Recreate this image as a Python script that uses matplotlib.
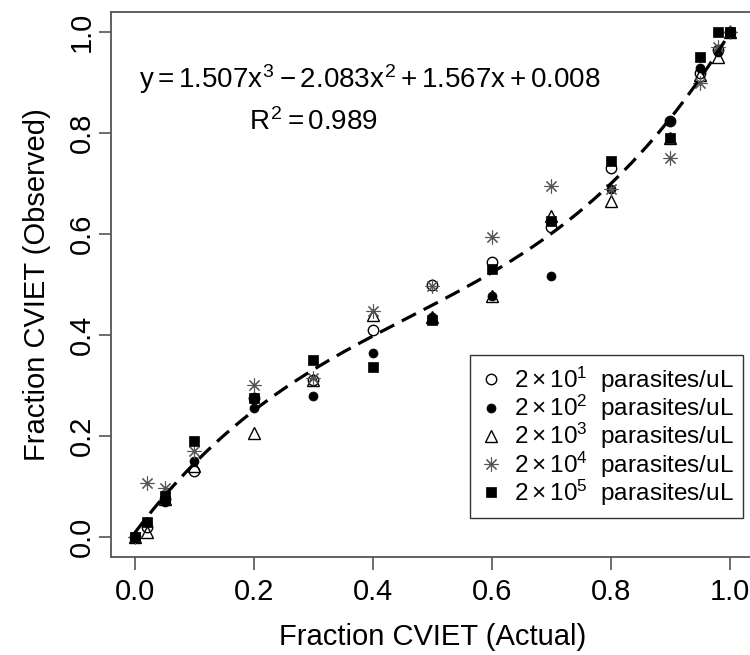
import numpy as np
import matplotlib
matplotlib.use("Agg")
import matplotlib.pyplot as plt
from matplotlib.ticker import MultipleLocator, FormatStrFormatter

plt.rcParams['font.family'] = ['Liberation Sans', 'DejaVu Sans']
plt.rcParams['mathtext.fontset'] = 'custom'
plt.rcParams['mathtext.rm'] = 'Liberation Sans'
plt.rcParams['mathtext.it'] = 'Liberation Sans'
plt.rcParams['mathtext.bf'] = 'Liberation Sans:bold'

# actual fraction (x) for every dilution series
actual = [0, 0.02, 0.05, 0.1, 0.2, 0.3, 0.4, 0.5, 0.6, 0.7, 0.8, 0.9, 0.95, 0.98, 1.0]

# observed fractions
obs_1e1 = [0.0, 0.02, 0.075, 0.13, 0.275, 0.31, 0.41, 0.50, 0.545, 0.615, 0.73, 0.825, 0.92, 0.965, 1.0]
obs_1e2 = [0.0, 0.03, 0.07, 0.15, 0.255, 0.28, 0.365, 0.435, 0.478, 0.517, 0.69, 0.825, 0.93, 0.96, 1.0]
obs_1e3 = [0.0, 0.01, 0.075, 0.14, 0.205, 0.31, 0.44, 0.435, 0.478, 0.635, 0.665, 0.79, 0.915, 0.95, 1.0]
obs_1e4 = [0.0, 0.107, 0.097, 0.17, 0.30, 0.315, 0.447, 0.497, 0.595, 0.695, 0.69, 0.75, 0.90, 0.97, 1.0]
obs_1e5 = [0.0, 0.03, 0.08, 0.19, 0.275, 0.35, 0.337, 0.43, 0.53, 0.625, 0.745, 0.79, 0.95, 1.0, 1.0]

legend_labels = [r'$2\times10^{1}$  parasites/uL',
                 r'$2\times10^{2}$  parasites/uL',
                 r'$2\times10^{3}$  parasites/uL',
                 r'$2\times10^{4}$  parasites/uL',
                 r'$2\times10^{5}$  parasites/uL']

# cubic fit shown on the chart: y = 1.507x^3 - 2.083x^2 + 1.567x + 0.008
fit_coef = [1.507, -2.083, 1.567, 0.008]

fig = plt.figure(figsize=(7.5, 6.55), dpi=100)
ax = fig.add_axes([0.148, 0.1496, 0.857, 0.832])

h1, = ax.plot(actual, obs_1e1, linestyle='none', marker='o', ms=7.5,
              mfc='white', mec='black', mew=1.0, label=legend_labels[0])
h2, = ax.plot(actual, obs_1e2, linestyle='none', marker='o', ms=6.5,
              mfc='black', mec='black', mew=0.5, label=legend_labels[1])
h3, = ax.plot(actual, obs_1e3, linestyle='none', marker='^', ms=9,
              mfc='none', mec='black', mew=1.0, label=legend_labels[2])
h4, = ax.plot(actual, obs_1e4, linestyle='none', marker=(8, 2, 0), ms=10,
              mec='#555555', mew=0.8, label=legend_labels[3])
h5, = ax.plot(actual, obs_1e5, linestyle='none', marker='s', ms=7,
              mfc='black', mec='black', mew=0.5, label=legend_labels[4])

xs = np.linspace(0, 1, 200)
ax.plot(xs, np.polyval(fit_coef, xs), color='black', linewidth=2.3,
        linestyle=(0, (5, 2.7)), zorder=5)

ax.text(0.395, 0.889, r'$y = 1.507x^3 - 2.083x^2 + 1.567x + 0.008$',
        fontsize=20, ha='center', va='baseline')
ax.text(0.30, 0.806, r'$R^2 = 0.989$', fontsize=20, ha='center', va='baseline')

ax.set_xlim(-0.04, 1.04)
ax.set_ylim(-0.04, 1.04)
ax.xaxis.set_major_locator(MultipleLocator(0.2))
ax.yaxis.set_major_locator(MultipleLocator(0.2))
ax.xaxis.set_major_formatter(FormatStrFormatter('%.1f'))
ax.yaxis.set_major_formatter(FormatStrFormatter('%.1f'))
ax.tick_params(direction='out', length=9, width=1.2, color='#555555',
               labelsize=21)
ax.tick_params(axis='x', pad=6)
ax.tick_params(axis='y', pad=2)
for lab in ax.get_yticklabels():
    lab.set_rotation(90)
    lab.set_va('center')
for sp in ax.spines.values():
    sp.set_color('#555555')
    sp.set_linewidth(1.3)

ax.set_xlabel('Fraction CVIET (Actual)', fontsize=21, labelpad=12)
ax.set_ylabel('Fraction CVIET (Observed)', fontsize=21, labelpad=12)

leg = ax.legend(handles=[h1, h2, h3, h4, h5], loc='lower right',
                bbox_to_anchor=(1.022, 0.038), bbox_transform=ax.transData,
                fontsize=17.5, frameon=True, fancybox=False, edgecolor='black',
                borderpad=0.4, handlelength=0.85, handletextpad=0.52,
                labelspacing=-0.08, numpoints=1, borderaxespad=0)
leg.get_frame().set_linewidth(1.0)

plt.savefig('out.png', dpi=100)
